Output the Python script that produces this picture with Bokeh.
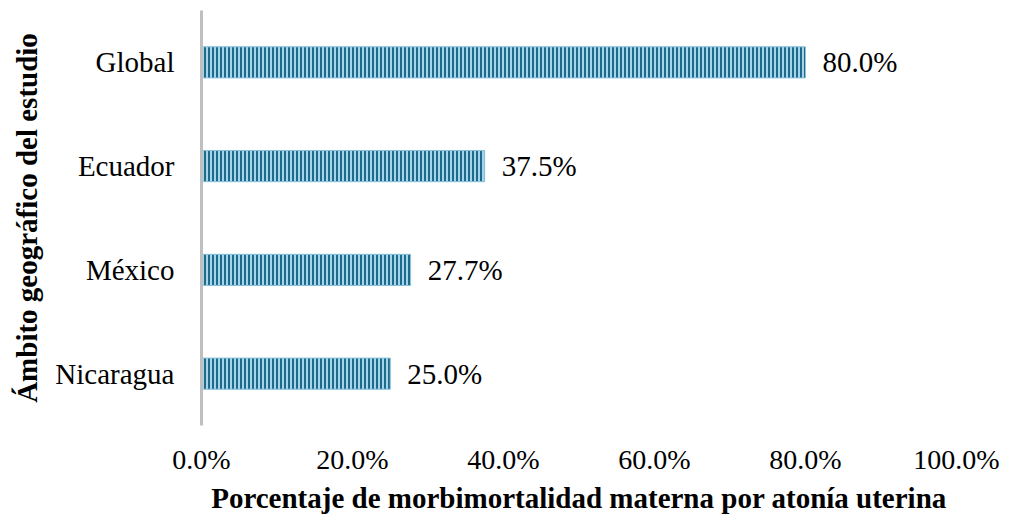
from bokeh.plotting import figure
from bokeh.models import FactorRange, Range1d, FixedTicker, NumeralTickFormatter, ColumnDataSource
from bokeh.core.properties import value
from bokeh.embed import file_html
from bokeh.resources import INLINE

categories = ["Nicaragua", "México", "Ecuador", "Global"]
percentages = [25.0, 27.7, 37.5, 80.0]
x_ticks = [0.0, 0.2, 0.4, 0.6, 0.8, 1.0]

fractions = [v / 100.0 for v in percentages]
labels = [f"{v:.1f}%" for v in percentages]
src = ColumnDataSource(dict(cat=categories, val=fractions, lab=labels))

FONT = "'Liberation Serif', 'Times New Roman', serif"

p = figure(width=1000, height=516,
           y_range=FactorRange(factors=categories, range_padding=0),
           x_range=Range1d(0, 1),
           output_backend="svg", toolbar_location=None,
           min_border_left=201, min_border_right=44,
           min_border_top=10, min_border_bottom=80)

p.hbar(y="cat", right="val", left=0, height=0.3, source=src,
       fill_color="#1d6a8d", hatch_pattern="vertical_line",
       hatch_color="#a6d5ea", hatch_scale=4, hatch_weight=2,
       line_color="#8cc3db", line_width=1)

p.text(x="val", y="cat", text="lab", source=src, x_offset=17,
       text_baseline="middle", text_align="left",
       text_font=value(FONT), text_font_size="29px", text_color="black")

p.xgrid.visible = False
p.ygrid.visible = False
p.outline_line_color = None
p.background_fill_color = "white"
p.border_fill_color = "white"

xa = p.xaxis[0]
xa.ticker = FixedTicker(ticks=x_ticks)
xa.formatter = NumeralTickFormatter(format="0.0%")
xa.axis_line_color = None
xa.major_tick_line_color = None
xa.minor_tick_line_color = None
xa.major_label_standoff = 12
xa.major_label_text_font = FONT
xa.major_label_text_font_size = "28px"
xa.major_label_text_color = "black"
xa.axis_label = "Porcentaje de morbimortalidad materna por atonía uterina"
xa.axis_label_text_font = FONT
xa.axis_label_text_font_size = "29px"
xa.axis_label_text_font_style = "bold"
xa.axis_label_text_color = "black"
xa.axis_label_standoff = 4

ya = p.yaxis[0]
ya.axis_line_color = "#bfbfbf"
ya.axis_line_width = 3
ya.major_tick_line_color = None
ya.minor_tick_line_color = None
ya.major_label_standoff = 21
ya.major_label_text_font = FONT
ya.major_label_text_font_size = "29px"
ya.major_label_text_color = "black"
ya.axis_label = "Ámbito geográfico del estudio"
ya.axis_label_text_font = FONT
ya.axis_label_text_font_size = "29px"
ya.axis_label_text_font_style = "bold"
ya.axis_label_text_color = "black"
ya.axis_label_standoff = 9

open("out.html", "w").write(file_html(p, INLINE))
